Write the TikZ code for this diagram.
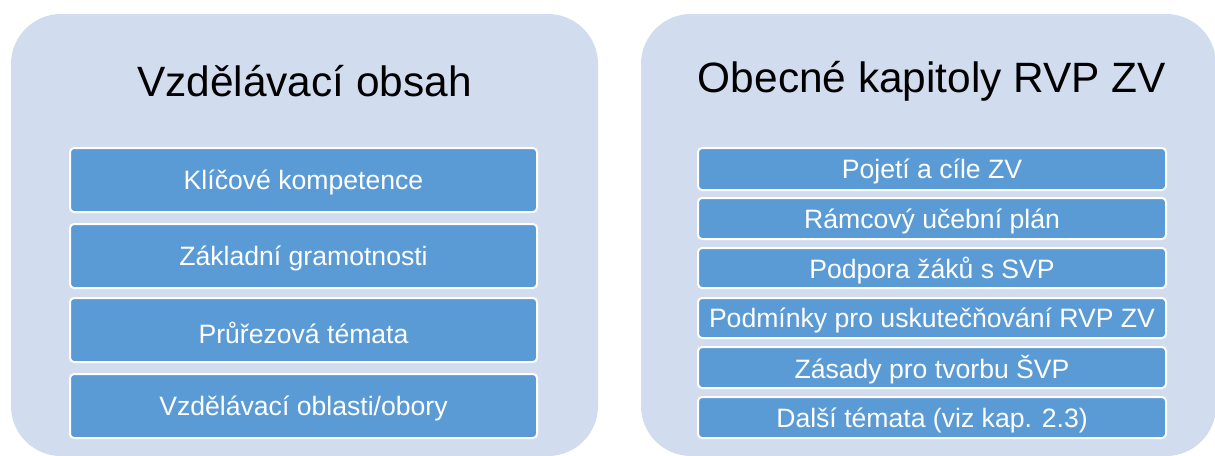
\documentclass[tikz,border=0pt]{standalone}
\usepackage{fontspec}
\setmainfont{Liberation Sans}
\definecolor{panelfill}{HTML}{D1DCEE}
\definecolor{boxfill}{HTML}{5B9BD5}
\tikzset{
  panel/.style={fill=panelfill, draw=none, rounded corners=50pt},
  titletext/.style={font=\fontsize{42.4}{48}\selectfont, text=black, inner sep=0pt, anchor=center},
  itembox/.style={fill=boxfill, draw=white, line width=2pt, rounded corners=4pt},
  itemtext/.style={font=\fontsize{26.6}{30}\selectfont, text=white, inner sep=0pt, anchor=center}
}
\begin{document}
\begin{tikzpicture}[x=1pt,y=-1pt]
\useasboundingbox (0,0) rectangle (1215,455);
\begin{scope}
\clip (0,0) rectangle (1215,455);
\fill[panel] (11,14) rectangle (598,456);
\fill[panel] (641,14) rectangle (1216,456);
\end{scope}
\node[titletext] (t1) at (304.5,81) {Vzdělávací obsah};
\node[titletext] (t2) at (932,81) {Obecné kapitoly RVP ZV};
% left boxes
\foreach \name/\ya/\yb/\txt in {l1/148/212/{Klíčové kompetence}, l2/224/288/{Základní gramotnosti}, l3/298/362/{Průřezová témata}, l4/374/438/{Vzdělávací oblasti/obory}}{
  \draw[itembox] (70,\ya) rectangle (537,\yb);
  \node[itemtext] (\name) at (303.5,{(\ya+\yb)/2+2.5}) {\txt};
}
% right boxes
\foreach \name/\ya/\yb/\txt in {r1/148/190/{Pojetí a cíle ZV}, r2/198/239/{Rámcový učební plán}, r3/248/288/{Podpora žáků s SVP}, r4/298/338/{Podmínky pro uskutečňování RVP ZV}, r5/347/388/{Zásady pro tvorbu ŠVP}, r6/397/438/{Další témata (viz kap. 2.3)}}{
  \draw[itembox] (698,\ya) rectangle (1166,\yb);
  \node[itemtext] (\name) at (932,{(\ya+\yb)/2+2.5}) {\txt};
}
\end{tikzpicture}
\end{document}
